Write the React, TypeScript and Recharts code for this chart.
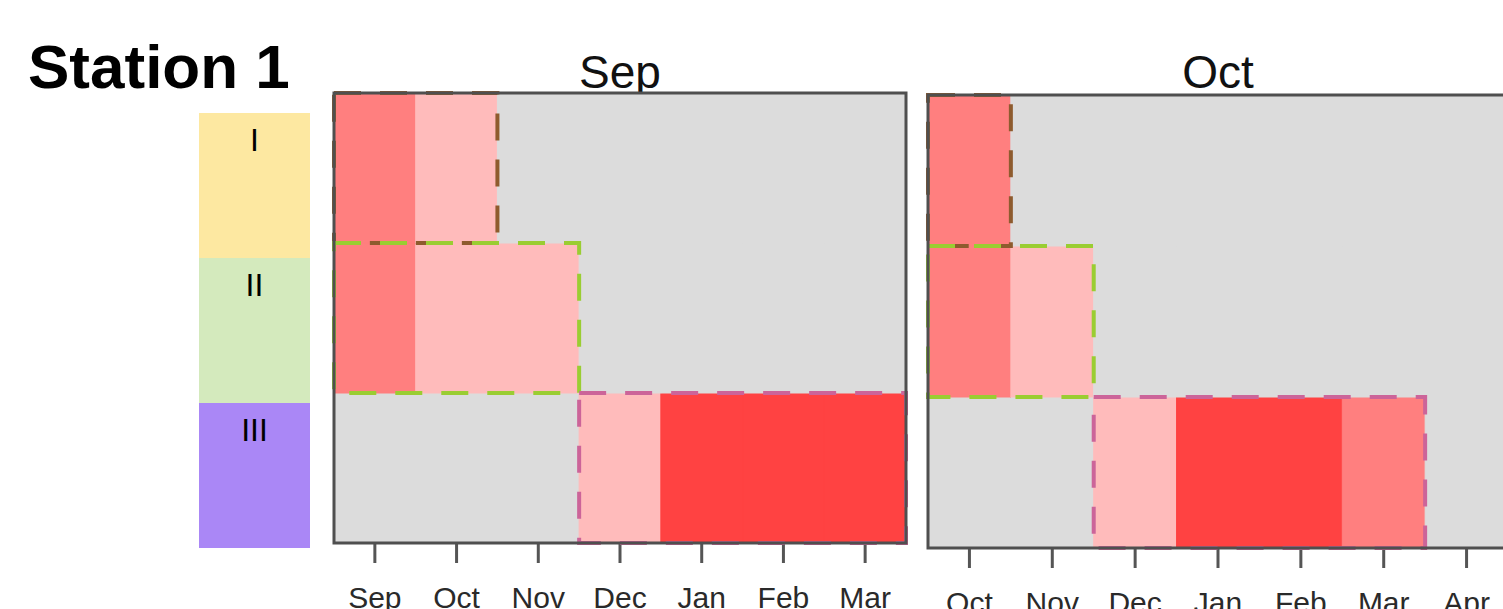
import { BarChart, Bar, XAxis, YAxis, Cell, ReferenceArea } from "recharts";

// month categories of each panel
const sepMonths = ["Sep", "Oct", "Nov", "Dec", "Jan", "Feb", "Mar"];
const octMonths = ["Oct", "Nov", "Dec", "Jan", "Feb", "Mar", "Apr"];

// intensity per month and stage: 0 none, 1 low, 2 mid, 3 high
const sepStageI = [2, 1, 0, 0, 0, 0, 0];
const sepStageII = [2, 1, 1, 0, 0, 0, 0];
const sepStageIII = [0, 0, 0, 1, 3, 3, 3];
const octStageI = [2, 0, 0, 0, 0, 0, 0];
const octStageII = [2, 1, 0, 0, 0, 0, 0];
const octStageIII = [0, 0, 1, 3, 3, 2, 0];

// first / last month of each stage window (I, II, III)
const sepStageStart = ["Sep", "Sep", "Dec"];
const sepStageEnd = ["Oct", "Nov", "Mar"];
const octStageStart = ["Oct", "Oct", "Dec"];
const octStageEnd = ["Oct", "Nov", "Mar"];

const stageNames = ["I", "II", "III"];
const stageColors = ["#fde8a1", "#d4eabd", "#aa87f6"];
const boxColors = ["#8e5b2e", "#9acd32", "#cc6499"];
const levelColors = ["#dcdcdc", "#ffbbbb", "#ff7f7f", "#ff4242"];

const font = "'Liberation Sans', Arial, Helvetica, sans-serif";

type PanelProps = {
  title: string;
  months: string[];
  levels: number[][];
  starts: string[];
  ends: string[];
  left: number;
  top: number;
  plotW: number;
  plotH: number;
};

const Panel = ({ title, months, levels, starts, ends, left, top, plotW, plotH }: PanelProps) => {
  const rows = months.map((m, i) => ({
    month: m,
    I: 1,
    II: 1,
    III: 1,
    lvI: levels[0][i],
    lvII: levels[1][i],
    lvIII: levels[2][i],
  }));
  const pad = 4;
  const cell = (lv: number, i: number) => (
    <Cell key={i} fill={levelColors[lv]} stroke={levelColors[lv]} strokeWidth={1} />
  );
  return (
    <>
      <div
        style={{
          position: "absolute", left, top: 49, width: plotW, textAlign: "center",
          fontFamily: font, fontSize: 46, lineHeight: 1, color: "#111",
        }}
      >
        {title}
      </div>
      <div style={{ position: "absolute", left: left - pad, top: top - pad }}>
        <BarChart
          width={plotW + pad * 2}
          height={plotH + pad + 70}
          data={rows}
          margin={{ top: pad, right: pad, left: pad, bottom: 0 }}
          barCategoryGap={0}
          barGap={0}
        >
          <XAxis
            dataKey="month"
            interval={0}
            axisLine={false}
            tickSize={20}
            tickMargin={24}
            tickLine={{ stroke: "#555", strokeWidth: 3 }}
            tick={{ fill: "#2a2a2a", fontSize: 30, fontFamily: font }}
            height={70}
          />
          <YAxis type="number" domain={[0, 3]} hide />
          <Bar dataKey="III" stackId="s" isAnimationActive={false}>
            {rows.map((r, i) => cell(r.lvIII, i))}
          </Bar>
          <Bar dataKey="II" stackId="s" isAnimationActive={false}>
            {rows.map((r, i) => cell(r.lvII, i))}
          </Bar>
          <Bar dataKey="I" stackId="s" isAnimationActive={false}>
            {rows.map((r, i) => cell(r.lvI, i))}
          </Bar>
          {stageNames.map((s, i) => (
            <ReferenceArea
              key={s}
              x1={starts[i]} x2={ends[i]} y1={2 - i} y2={3 - i}
              fill="none" fillOpacity={0}
              stroke={boxColors[i]} strokeWidth={4} strokeDasharray="27 19"
              ifOverflow="visible" zIndex={800}
            />
          ))}
          <ReferenceArea
            x1={months[0]} x2={months[months.length - 1]} y1={0} y2={3}
            fill="none" fillOpacity={0} stroke="#4f4f4f" strokeWidth={3}
            ifOverflow="visible" zIndex={900}
          />
        </BarChart>
      </div>
    </>
  );
};

export default function App() {
  return (
    <div
      style={{
        position: "absolute", left: 0, top: 0, width: 1503, height: 609,
        overflow: "hidden", background: "#fff",
      }}
    >
      <div
        style={{
          position: "absolute", left: 28, top: 36, fontFamily: font,
          fontWeight: "bold", fontSize: 62, lineHeight: 1, color: "#000",
        }}
      >
        Station 1
      </div>
      {stageNames.map((s, i) => (
        <div
          key={s}
          style={{
            position: "absolute", left: 199, top: 113 + i * 145, width: 111, height: 145,
            background: stageColors[i],
          }}
        >
          <div
            style={{
              position: "absolute", left: 0, right: 0, top: 11, textAlign: "center",
              fontFamily: font, fontSize: 32, lineHeight: 1, color: "#000",
            }}
          >
            {s}
          </div>
        </div>
      ))}
      <Panel
        title="Sep"
        months={sepMonths}
        levels={[sepStageI, sepStageII, sepStageIII]}
        starts={sepStageStart}
        ends={sepStageEnd}
        left={334}
        top={93}
        plotW={572}
        plotH={450}
      />
      <Panel
        title="Oct"
        months={octMonths}
        levels={[octStageI, octStageII, octStageIII]}
        starts={octStageStart}
        ends={octStageEnd}
        left={928}
        top={95}
        plotW={580}
        plotH={453}
      />
    </div>
  );
}
